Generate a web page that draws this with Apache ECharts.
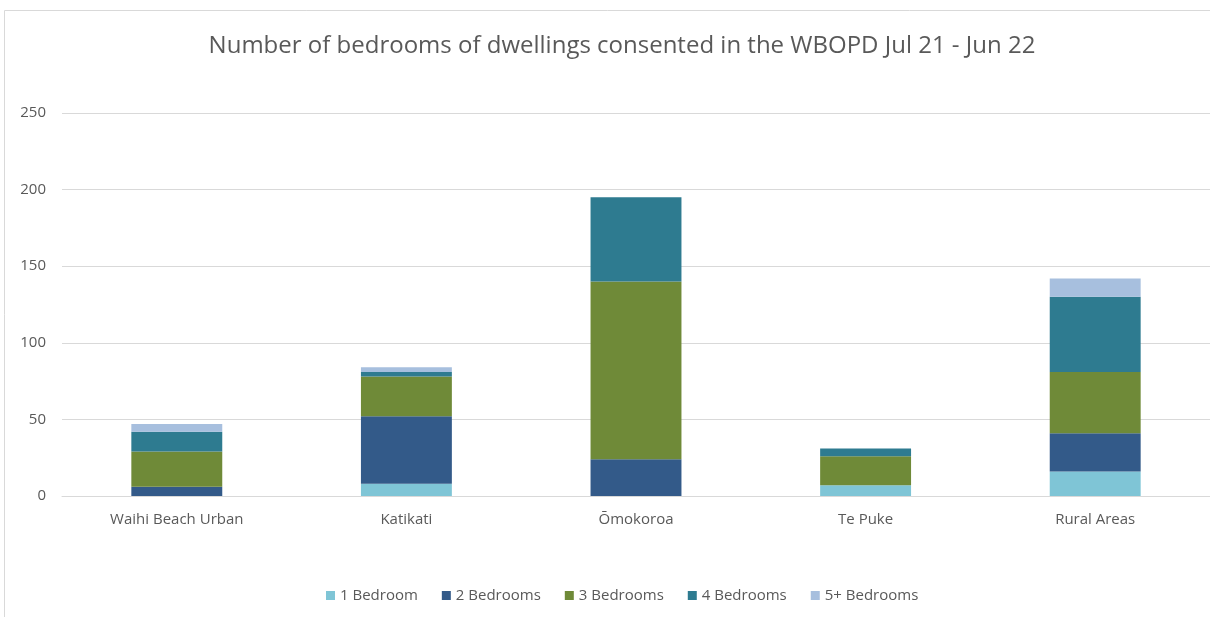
<!DOCTYPE html>
<html>
<head>
<meta charset="utf-8">
<script src="https://cdn.jsdelivr.net/npm/echarts@6/dist/echarts.min.js"></script>
<style>
  html, body { margin: 0; padding: 0; background: #fff; }
  #main { width: 1210px; height: 617px; }
</style>
</head>
<body>
<div id="main"></div>
<script>
// areas along the x axis
let areas = ['Waihi Beach Urban', 'Katikati', 'Ōmokoroa', 'Te Puke', 'Rural Areas'];
// dwellings consented, by number of bedrooms
let bed1 = [0, 8, 0, 7, 16];
let bed2 = [6, 44, 24, 0, 25];
let bed3 = [23, 26, 116, 19, 40];
let bed4 = [13, 3, 55, 5, 49];
let bed5 = [5, 3, 0, 0, 12];
let seriesNames = ['1 Bedroom', '2 Bedrooms', '3 Bedrooms', '4 Bedrooms', '5+ Bedrooms'];
let colors = ['#7fc5d6', '#335a89', '#6f8a38', '#2e7b90', '#a7bfde'];

let font = 'Open Sans';
let grey = '#595959';

var myChart = echarts.init(document.getElementById('main'));

let series = [bed1, bed2, bed3, bed4, bed5].map((vals, i) => ({
    name: seriesNames[i],
    type: 'bar',
    stack: 'beds',
    barWidth: '39.6%',
    itemStyle: { color: colors[i] },
    data: vals
}));

var option = {
    animation: false,
    textStyle: { fontFamily: font },
    graphic: [{
        type: 'rect',
        shape: { x: 4.5, y: 10.5, width: 1300, height: 700 },
        style: { fill: 'none', stroke: '#d9d9d9', lineWidth: 1 }
    }],
    title: {
        text: 'Number of bedrooms of dwellings consented in the WBOPD Jul 21 - Jun 22',
        left: 617,
        textAlign: 'center',
        top: 29,
        textStyle: { fontFamily: font, fontSize: 24, fontWeight: 'normal', color: grey }
    },
    legend: {
        bottom: 9,
        left: 321,
        itemWidth: 9,
        itemHeight: 9,
        itemGap: 24,
        icon: 'rect',
        textStyle: { fontFamily: font, fontSize: 15, color: grey },
        data: seriesNames
    },
    grid: { left: 62, top: 113, width: 1160, height: 383 },
    xAxis: {
        type: 'category',
        data: areas,
        axisLine: { lineStyle: { color: '#d9d9d9', width: 1 } },
        axisTick: { show: false },
        axisLabel: { fontFamily: font, fontSize: 15, color: grey, margin: 16 }
    },
    yAxis: {
        type: 'value',
        min: 0,
        max: 250,
        interval: 50,
        axisLine: { show: false },
        axisTick: { show: false },
        splitLine: { lineStyle: { color: '#d9d9d9', width: 1 } },
        axisLabel: { fontFamily: font, fontSize: 15, color: grey, margin: 16 }
    },
    series: series
};

myChart.setOption(option);
</script>
</body>
</html>
